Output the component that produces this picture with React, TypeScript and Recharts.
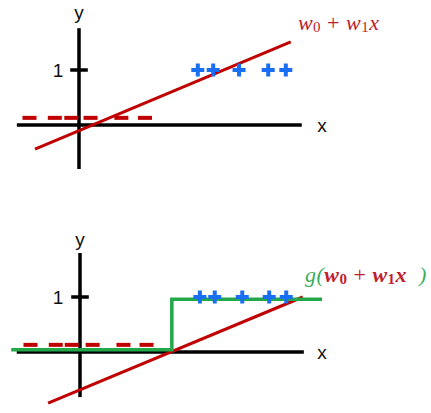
import React from 'react';
import { ComposedChart, XAxis, YAxis, Line, Scatter, ReferenceLine } from 'recharts';

// ---------- data: top panel (linear model) ----------
const topPlusX = [2.16, 2.44, 2.91, 3.44, 3.76];
const topPlusY = 1;
const topMinusX = [-0.9, -0.44, -0.14, 0.21, 0.77, 1.2];
const topMinusY = 0.13;
const topLinePts = [
  { x: -0.8, y: -0.44 },
  { x: 3.85, y: 1.51 },
];

// ---------- data: bottom panel (thresholded model) ----------
const botPlusX = [2.18, 2.45, 2.95, 3.44, 3.75];
const botPlusY = 1;
const botMinusX = [-0.9, -0.44, -0.15, 0.23, 0.79, 1.21];
const botMinusY = 0.13;
const botLinePts = [
  { x: -0.58, y: -0.93 },
  { x: 4.05, y: 1.0 },
];
const botStepPts = [
  { x: -1.25, y: 0.04 },
  { x: 1.67, y: 0.96 },
  { x: 4.4, y: 0.96 },
];

// axis labels / ticks
const yTickValue = 1;
const yTickLabel = '1';
const xAxisName = 'x';
const yAxisName = 'y';

const RED = '#c00000';
const RED_TXT = '#c0202a';
const BLUE = '#1a6ef2';
const GREEN = '#22a84a';
const GREEN_TXT = '#3cae5c';

const PlusShape = (p: any) => {
  const { cx, cy } = p;
  const a = 6.5;
  const t = 2;
  return (
    <g>
      <rect x={cx - a} y={cy - t} width={2 * a} height={2 * t} fill={BLUE} />
      <rect x={cx - t} y={cy - a} width={2 * t} height={2 * a} fill={BLUE} />
    </g>
  );
};

const DashShape = (p: any) => {
  const { cx, cy } = p;
  return <rect x={cx - 7} y={cy - 2} width={14} height={4} fill={RED} />;
};

const TextShape = (p: any) => {
  const { cx, cy, payload } = p;
  return (
    <text
      x={cx}
      y={cy}
      textAnchor={payload.anchor || 'middle'}
      dominantBaseline="central"
      fontFamily="'Liberation Sans', Arial, sans-serif"
      fontSize={19}
      fill="#111"
    >
      {payload.text}
    </text>
  );
};

const FormulaShape = (p: any) => {
  const { cx, cy, payload } = p;
  const wrap = payload.wrap;
  const fw = wrap ? 'bold' : 'normal';
  return (
    <text
      x={cx}
      y={cy}
      dominantBaseline="central"
      fontFamily="'Liberation Serif', 'DejaVu Serif', serif"
      fontStyle="italic"
      fontSize={22}
      letterSpacing={0.5}
      fill={RED_TXT}
    >
      {wrap && <tspan fill={GREEN_TXT}>g(</tspan>}
      <tspan fontWeight={fw}>w</tspan>
      <tspan fontSize={15} dy={5} fontStyle="normal" fontWeight={fw}>0</tspan>
      <tspan dy={-5} fontStyle="normal">{'\u00a0+\u00a0'}</tspan>
      <tspan fontWeight={fw}>w</tspan>
      <tspan fontSize={15} dy={5} fontStyle="normal" fontWeight={fw}>1</tspan>
      <tspan dy={-5} fontWeight={fw}>x</tspan>
      {wrap && <tspan fill={GREEN_TXT}>{'\u00a0\u00a0)'}</tspan>}
    </text>
  );
};

const Panel = ({
  height,
  xDomain,
  yDomain,
  xAxisSeg,
  yAxisSeg,
  tickHalf,
  plusX,
  plusY,
  minusX,
  minusY,
  linePts,
  stepPts,
  yNameY,
  xNameX,
  tickLabelX,
  formula,
}: any) => {
  const plusData = plusX.map((x: number) => ({ x, y: plusY }));
  const minusData = minusX.map((x: number) => ({ x, y: minusY }));
  const labelData = [
    { x: 0, y: yNameY, text: yAxisName },
    { x: xNameX, y: 0, text: xAxisName },
    { x: tickLabelX, y: yTickValue, text: yTickLabel },
  ];
  return (
    <ComposedChart width={431} height={height} margin={{ top: 0, right: 0, bottom: 0, left: 0 }}>
      <XAxis type="number" dataKey="x" domain={xDomain} allowDataOverflow hide />
      <YAxis type="number" dataKey="y" domain={yDomain} allowDataOverflow hide />
      <ReferenceLine segment={[{ x: xAxisSeg[0], y: 0 }, { x: xAxisSeg[1], y: 0 }]} stroke="#000" strokeWidth={3.5} />
      <ReferenceLine segment={[{ x: 0, y: yAxisSeg[0] }, { x: 0, y: yAxisSeg[1] }]} stroke="#000" strokeWidth={3.5} />
      <ReferenceLine segment={[{ x: -tickHalf, y: yTickValue }, { x: tickHalf, y: yTickValue }]} stroke="#000" strokeWidth={3.5} />
      <Scatter data={labelData} shape={TextShape} isAnimationActive={false} />
      <Scatter data={minusData} shape={DashShape} isAnimationActive={false} />
      <Line data={linePts} dataKey="y" type="linear" stroke={RED} strokeWidth={3} dot={false} isAnimationActive={false} />
      {stepPts && (
        <Line data={stepPts} dataKey="y" type="stepAfter" stroke={GREEN} strokeWidth={3.5} dot={false} isAnimationActive={false} />
      )}
      <Scatter data={plusData} shape={PlusShape} isAnimationActive={false} />
      <Scatter data={[formula]} shape={FormulaShape} isAnimationActive={false} />
    </ComposedChart>
  );
};

export default function App() {
  return (
    <div style={{ position: 'absolute', left: 0, top: 0, width: 431, height: 413, background: '#fff' }}>
      <Panel
        height={200}
        xDomain={[-79 / 55, 352 / 55]}
        yDomain={[-75 / 55, 125 / 55]}
        xAxisSeg={[-1.13, 4.05]}
        yAxisSeg={[1.76, -0.8]}
        tickHalf={0.16}
        plusX={topPlusX}
        plusY={topPlusY}
        minusX={topMinusX}
        minusY={topMinusY}
        linePts={topLinePts}
        yNameY={2.04}
        xNameX={4.42}
        tickLabelX={-0.38}
        formula={{ x: 3.98, y: 1.87, wrap: false }}
      />
      <Panel
        height={213}
        xDomain={[-80 / 55, 351 / 55]}
        yDomain={[-61 / 55, 152 / 55]}
        xAxisSeg={[-1.15, 4.07]}
        yAxisSeg={[1.8, -0.82]}
        tickHalf={0.16}
        plusX={botPlusX}
        plusY={botPlusY}
        minusX={botMinusX}
        minusY={botMinusY}
        linePts={botLinePts}
        stepPts={botStepPts}
        yNameY={2.04}
        xNameX={4.4}
        tickLabelX={-0.4}
        formula={{ x: 4.09, y: 1.42, wrap: true }}
      />
    </div>
  );
}
